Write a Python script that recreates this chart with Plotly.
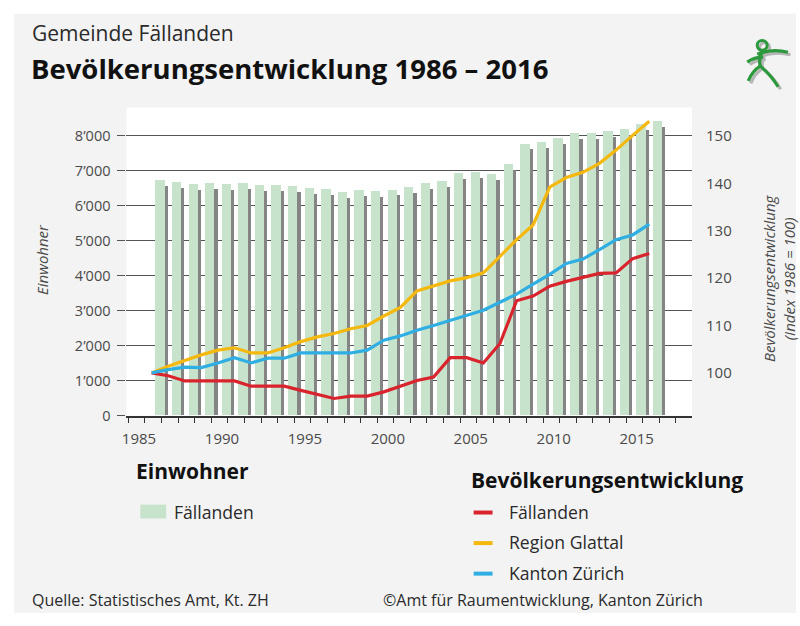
import numpy as np
import plotly.graph_objects as go

# ---------------- data ----------------
years = list(range(1986, 2017))
einwohner = [6730, 6660, 6600, 6630, 6600, 6640, 6585, 6575, 6545, 6505,
             6460, 6385, 6435, 6415, 6450, 6525, 6640, 6705, 6920, 6940,
             6900, 7165, 7765, 7800, 7935, 8060, 8065, 8135, 8170, 8330, 8405]
idx_faellanden = [100.0, 99.4, 98.3, 98.3, 98.3, 98.3, 97.2, 97.2, 97.2, 96.3,
                  95.4, 94.6, 95.1, 95.1, 96.0, 97.2, 98.4, 99.1, 103.2, 103.2,
                  102.1, 106.2, 115.2, 116.2, 118.3, 119.3, 120.1, 121.0, 121.1, 124.1, 125.2]
idx_glattal = [100.0, 101.4, 102.6, 103.8, 104.8, 105.3, 104.2, 104.2, 105.3, 106.6,
               107.6, 108.3, 109.3, 110.0, 112.0, 113.8, 117.3, 118.4, 119.4, 120.1,
               121.1, 124.6, 128.1, 131.2, 139.2, 141.2, 142.3, 144.2, 147.0, 150.1, 153.1]
idx_zuerich = [100.0, 100.7, 101.2, 101.1, 102.1, 103.2, 102.1, 103.1, 103.1, 104.2,
               104.2, 104.2, 104.2, 104.8, 106.9, 107.8, 109.0, 110.0, 111.1, 112.1,
               113.2, 114.9, 116.6, 118.7, 120.8, 123.1, 124.0, 126.0, 128.1, 129.1, 131.4]
left_ticks = [0, 1000, 2000, 3000, 4000, 5000, 6000, 7000, 8000]
right_ticks = [100, 110, 120, 130, 140, 150]
x_label_years = [1985, 1990, 1995, 2000, 2005, 2010, 2015]

series_names = ["Fällanden", "Region Glattal", "Kanton Zürich"]
series_colors = ["#d9232d", "#f4b80e", "#2eaee2"]

# ---------------- styling helpers ----------------
W, H = 800, 626
FONT = "Open Sans"
BG = "#f3f3f3"
GRID = "#555555"
TXT = "#2a2a2a"
TICK = "#4a4a4a"
BAR = "#c8e3cb"
SHADOW = "#858585"


def fx(px):
    return px / W


def fy(py):
    return 1 - py / H


fig = go.Figure()

# bars (Einwohner) with a darker 3D side strip
fig.add_trace(go.Bar(x=years, y=np.array(einwohner) - 170, offset=0.80, width=0.2,
                     marker=dict(color=SHADOW, line=dict(width=0)),
                     yaxis="y", xaxis="x", hoverinfo="skip", showlegend=False))
fig.add_trace(go.Bar(x=years, y=einwohner, offset=0.25, width=0.56,
                     marker=dict(color=BAR, line=dict(width=0)),
                     name="Einwohner Fällanden", yaxis="y", xaxis="x", showlegend=False))

for name, vals, col in zip(series_names, [idx_faellanden, idx_glattal, idx_zuerich], series_colors):
    fig.add_trace(go.Scatter(x=years, y=vals, mode="lines", name=name,
                             line=dict(color=col, width=3.2),
                             yaxis="y2", xaxis="x", showlegend=False))

shapes = []
# grey panel
shapes.append(dict(type="rect", xref="paper", yref="paper", x0=fx(10), x1=fx(796),
                   y0=fy(622), y1=fy(14), fillcolor=BG, line=dict(width=0), layer="below"))
# white plot background
shapes.append(dict(type="rect", xref="paper", yref="paper", x0=fx(123), x1=fx(691.5),
                   y0=fy(421.7), y1=fy(109), fillcolor="white", line=dict(width=0), layer="below"))

# legend markers
shapes.append(dict(type="rect", xref="paper", yref="paper", x0=fx(137), x1=fx(163),
                   y0=fy(526), y1=fy(512), fillcolor=BAR, line=dict(width=0)))
for i, col in enumerate(series_colors):
    yy = 520 + i * 31
    shapes.append(dict(type="line", xref="paper", yref="paper", x0=fx(472), x1=fx(491),
                       y0=fy(yy), y1=fy(yy), line=dict(color=col, width=4)))


# logo (stick figure)
def path(pts, dx=0, dy=0):
    s = "M %f,%f" % (fx(pts[0][0] + dx), fy(pts[0][1] + dy))
    for i in range(1, len(pts), 2):
        s += " Q %f,%f %f,%f" % (fx(pts[i][0] + dx), fy(pts[i][1] + dy),
                                 fx(pts[i + 1][0] + dx), fy(pts[i + 1][1] + dy))
    return s

logo_strokes = [
    [(763, 51), (758, 58), (760, 67)],
    [(757, 55), (772, 49), (788, 53)],
    [(763, 58), (754, 58), (747, 63)],
    [(760, 67), (752, 72), (748, 82)],
    [(760, 67), (771, 76), (778, 88)],
]
for dx, dy, col in [(2.5, 2.5, "#b5b5b5"), (0, 0, "#2c9a3c")]:
    for st in logo_strokes:
        shapes.append(dict(type="path", xref="paper", yref="paper", path=path(st, dx, dy),
                           line=dict(color=col, width=3.2)))
    shapes.append(dict(type="circle", xref="paper", yref="paper",
                       x0=fx(757 + dx), x1=fx(767 + dx), y0=fy(51 + dy), y1=fy(41 + dy),
                       line=dict(color=col, width=3)))

annotations = []


def txt(text, x, y, size, color=TXT, bold=False, italic=False, xanchor="left", angle=0):
    t = text
    if bold:
        t = "<b>%s</b>" % t
    if italic:
        t = "<i>%s</i>" % t
    annotations.append(dict(text=t, x=fx(x), y=fy(y), xref="paper", yref="paper",
                            xanchor=xanchor, yanchor="middle", showarrow=False,
                            borderpad=0,
                            textangle=angle, font=dict(family=FONT, size=size, color=color)))

txt("Gemeinde Fällanden", 27, 33, 21)
txt("Bevölkerungsentwicklung 1986 – 2016", 26, 69, 27.5, color="#111", bold=True)
txt("Einwohner", 38, 263, 15, color=TICK, italic=True, xanchor="center", angle=-90)
txt("Bevölkerungsentwicklung<br>(Index 1986 = 100)", 779, 282, 15, color=TICK,
    italic=True, xanchor="center", angle=-90)

txt("Einwohner", 132, 478, 21, color="#111", bold=True)
txt("Fällanden", 170, 519, 17.6)
txt("Bevölkerungsentwicklung", 468, 487, 21, color="#111", bold=True)
for i, name in enumerate(series_names):
    txt(name, 507, 519 + i * 31, 17.6)

txt("Quelle: Statistisches Amt, Kt. ZH", 27, 609, 16)
txt("©Amt für Raumentwicklung, Kanton Zürich", 380, 609, 16)

fig.update_layout(
    width=W, height=H,
    margin=dict(l=0, r=0, t=0, b=0),
    paper_bgcolor="white",
    plot_bgcolor="rgba(0,0,0,0)",
    separators=".’",
    barmode="overlay",
    bargap=0,
    font=dict(family=FONT, color=TICK),
    shapes=shapes,
    annotations=annotations,
    xaxis=dict(domain=[fx(123), fx(691.5)], range=[1984.48, 2018.58],
               tickmode="array", tickvals=x_label_years, ticks="",
               ticklabelshift=4, ticklabelstandoff=9,
               showgrid=False, zeroline=False,
               showline=True, linecolor="#333", linewidth=1.5,
               tickfont=dict(family=FONT, size=15, color=TICK),
               minor=dict(ticks="outside", tick0=1984.6, dtick=1, ticklen=6,
                          tickcolor="#333", tickwidth=1.3, showgrid=False)),
    yaxis=dict(domain=[fy(421.7), fy(109)], range=[0, 8808],
               tickmode="array", tickvals=left_ticks, tickformat=",d",
               showgrid=True, gridcolor=GRID, gridwidth=1.3,
               ticks="outside", ticklen=8, tickcolor=GRID, tickwidth=1.3,
               zeroline=False, showline=False,
               ticklabelstandoff=4,
               tickfont=dict(family=FONT, size=14.5, color=TICK)),
    yaxis2=dict(overlaying="y", side="right", anchor="x", range=[90.98, 156.0],
                tickmode="array", tickvals=right_ticks, ticks="",
                showgrid=False, zeroline=False, showline=False,
                ticklabelstandoff=13,
                tickfont=dict(family=FONT, size=15, color=TICK)),
)

post = ("document.body.style.margin='0';"
        "document.documentElement.style.overflow='hidden';"
        "document.body.style.overflow='hidden';"
        "var g=document.querySelector('.plotly-graph-div');"
        "g.style.position='fixed';g.style.left='0px';g.style.top='0px';")
fig.write_html("out.html", config={"displayModeBar": False}, post_script=post)
